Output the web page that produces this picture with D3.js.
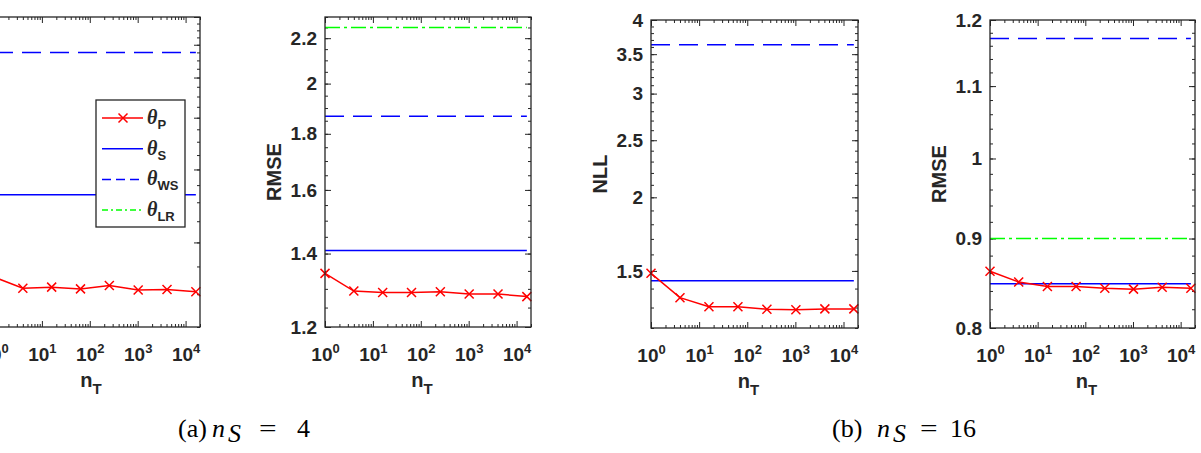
<!DOCTYPE html>
<html>
<head>
<meta charset="utf-8">
<script src="https://cdn.jsdelivr.net/npm/d3@7"></script>
<style>
body { margin: 0; background: #fff; }
svg { display: block; }
.tick text { font-family: "Liberation Sans", Arial, sans-serif; font-weight: bold; font-size: 19px; fill: #262626; }
.tick line { stroke: #262626; stroke-width: 1; }
.lab { font-family: "Liberation Sans", Arial, sans-serif; font-weight: bold; font-size: 20px; fill: #262626; }
.cap { font-family: "Liberation Serif", "Times New Roman", serif; font-size: 26px; fill: #000; }
</style>
</head>
<body>
<svg id="fig" width="1201" height="453"></svg>
<script>
// number of target samples (x axis, shared)
var nT = [1, 4, 16, 64, 256, 1024, 4096, 16384];
var xTicks = [1, 10, 100, 1000, 10000];

// (a) n_S = 4
var nllP4 = [3.30, 3.10, 3.12, 3.09, 3.15, 3.07, 3.08, 3.04];
var nllS4 = 5.21;
var nllWS4 = 11.5;
var rmseP4 = [1.343, 1.294, 1.290, 1.290, 1.292, 1.286, 1.286, 1.279];
var rmseS4 = 1.409;
var rmseWS4 = 1.868;
var rmseLR4 = 2.25;

// (b) n_S = 16
var nllP16 = [1.486, 1.351, 1.304, 1.304, 1.291, 1.289, 1.293, 1.293];
var nllS16 = 1.443;
var nllWS16 = 3.63;
var rmseP16 = [0.862, 0.850, 0.845, 0.845, 0.843, 0.842, 0.844, 0.843];
var rmseS16 = 0.848;
var rmseWS16 = 1.171;
var rmseLR16 = 0.900;

// y tick labels
var nllTicks4 = [4, 6, 8, 10, 12, 14];
var rmseTicks4 = [1.2, 1.4, 1.6, 1.8, 2, 2.2];
var nllTicks16 = [1.5, 2, 2.5, 3, 3.5, 4];
var rmseTicks16 = [0.8, 0.9, 1, 1.1, 1.2];

var legendNames = ["P", "S", "WS", "LR"];

var svg = d3.select("#fig");
var ink = "#262626";

// first panel is cropped on the left: its y labels fall outside the picture
var panels = [
  { left: -6, top: 17, w: 206, h: 310, yDom: [2.5, 14], ticks: nllTicks4, minor: 0.5, label: "NLL",
    p: nllP4, s: nllS4, ws: nllWS4, lr: null, cropped: true },
  { left: 325, top: 17, w: 206, h: 310, yDom: [1.2, 2.3], ticks: rmseTicks4, minor: 0.05, label: "RMSE",
    p: rmseP4, s: rmseS4, ws: rmseWS4, lr: rmseLR4 },
  { left: 651, top: 20, w: 207, h: 308, yDom: [1.2, 4], ticks: nllTicks16, minor: 0.1, label: "NLL",
    p: nllP16, s: nllS16, ws: nllWS16, lr: null },
  { left: 990, top: 20, w: 205, h: 308, yDom: [0.8, 1.2], ticks: rmseTicks16, minor: 0.02, label: "RMSE",
    p: rmseP16, s: rmseS16, ws: rmseWS16, lr: rmseLR16 }
];

function xMinors() {
  var out = [];
  for (var e = 0; e <= 4; e++)
    for (var m = 2; m <= 9; m++) {
      var v = m * Math.pow(10, e);
      if (v <= 20000) out.push(v);
    }
  return out;
}

function drawPanel(c) {
  var g = svg.append("g").attr("transform", "translate(" + c.left + "," + c.top + ")");
  var x = d3.scaleLog().domain([1, 20000]).range([0, c.w]);
  var y = d3.scaleLog().domain(c.yDom).range([c.h, 0]);

  var yMin = d3.range(c.yDom[0], c.yDom[1] + 1e-9, c.minor).map(function(v) { return +v.toFixed(4); });

  // minor ticks (inside)
  g.append("g").attr("transform", "translate(0," + c.h + ")")
    .call(d3.axisBottom(x).tickValues(xMinors()).tickSize(-3).tickSizeOuter(0).tickFormat(""));
  g.append("g").call(d3.axisTop(x).tickValues(xMinors()).tickSize(-3).tickSizeOuter(0).tickFormat(""));
  g.append("g").call(d3.axisLeft(y).tickValues(yMin).tickSize(-3).tickSizeOuter(0).tickFormat(""));
  g.append("g").attr("transform", "translate(" + c.w + ",0)")
    .call(d3.axisRight(y).tickValues(yMin).tickSize(-3).tickSizeOuter(0).tickFormat(""));

  // major ticks
  var xb = g.append("g").attr("class", "xmaj").attr("transform", "translate(0," + c.h + ")")
    .call(d3.axisBottom(x).tickValues(xTicks).tickSize(-6).tickSizeOuter(0));
  g.append("g").call(d3.axisTop(x).tickValues(xTicks).tickSize(-6).tickSizeOuter(0).tickFormat(""));
  g.append("g").call(d3.axisLeft(y).tickValues(c.ticks).tickSize(-6).tickSizeOuter(0).tickPadding(8)
    .tickFormat(c.cropped ? "" : function(d) { return d3.format("~g")(d); }));
  g.append("g").attr("transform", "translate(" + c.w + ",0)")
    .call(d3.axisRight(y).tickValues(c.ticks).tickSize(-6).tickSizeOuter(0).tickFormat(""));
  g.selectAll(".domain").remove();

  xb.selectAll(".tick text").each(function(d) {
    var t = d3.select(this);
    t.text(null).attr("y", 34).attr("dy", null);
    t.append("tspan").text("10");
    t.append("tspan").attr("dy", -8).attr("font-size", "13px").text(Math.round(Math.log10(d)));
  });

  // series
  var line = d3.line().x(function(d) { return x(d[0]); }).y(function(d) { return y(d[1]); });
  function flat(v) { return nT.map(function(n) { return [n, v]; }); }

  g.append("path").datum(flat(c.s)).attr("d", line)
    .attr("fill", "none").attr("stroke", "#0000ff").attr("stroke-width", 1.5);
  g.append("path").datum(flat(c.ws)).attr("d", line)
    .attr("fill", "none").attr("stroke", "#0000ff").attr("stroke-width", 1.5).attr("stroke-dasharray", "19,9");
  if (c.lr !== null)
    g.append("path").datum(flat(c.lr)).attr("d", line)
      .attr("fill", "none").attr("stroke", "#00ff00").attr("stroke-width", 1.5).attr("stroke-dasharray", "15,4,3,4");

  var pts = nT.map(function(n, i) { return [n, c.p[i]]; });
  g.append("path").datum(pts).attr("d", line)
    .attr("fill", "none").attr("stroke", "#ff0000").attr("stroke-width", 1.5);
  g.selectAll("path.mk").data(pts).enter().append("path").attr("class", "mk")
    .attr("d", function(d) {
      var px = x(d[0]), py = y(d[1]), r = 4.5;
      return "M" + (px - r) + "," + (py - r) + "L" + (px + r) + "," + (py + r) +
             "M" + (px - r) + "," + (py + r) + "L" + (px + r) + "," + (py - r);
    })
    .attr("stroke", "#ff0000").attr("stroke-width", 1.5);

  // box
  g.append("rect").attr("width", c.w).attr("height", c.h)
    .attr("fill", "none").attr("stroke", ink).attr("stroke-width", 1.3);

  // axis labels
  if (!c.cropped)
    g.append("text").attr("class", "lab").attr("text-anchor", "middle")
      .attr("transform", "translate(-44," + (c.h / 2) + ") rotate(-90)").text(c.label);
  var xl = g.append("text").attr("class", "lab").attr("text-anchor", "middle")
    .attr("x", c.w / 2 - 6).attr("y", c.h + 60);
  xl.append("tspan").text("n");
  xl.append("tspan").attr("dy", 7).attr("font-size", "15px").text("T");
}

panels.forEach(drawPanel);

// legend (first panel)
var lg = svg.append("g").attr("transform", "translate(96,100)");
lg.append("rect").attr("width", 89).attr("height", 127)
  .attr("fill", "#fff").attr("stroke", ink).attr("stroke-width", 1.3);
var styles = [
  { col: "#ff0000", dash: null },
  { col: "#0000ff", dash: null },
  { col: "#0000ff", dash: "9,5" },
  { col: "#00ff00", dash: "6,3,2,3" }
];
legendNames.forEach(function(nm, i) {
  var yy = 18 + i * 30.7;
  var st = styles[i];
  lg.append("line").attr("x1", 6).attr("x2", 47).attr("y1", yy).attr("y2", yy)
    .attr("stroke", st.col).attr("stroke-width", 1.5).attr("stroke-dasharray", st.dash);
  if (i === 0)
    lg.append("path").attr("d", "M22.5," + (yy - 4.5) + "L31.5," + (yy + 4.5) + "M22.5," + (yy + 4.5) + "L31.5," + (yy - 4.5))
      .attr("stroke", st.col).attr("stroke-width", 1.5);
  var t = lg.append("text").attr("x", 51).attr("y", yy + 6);
  t.append("tspan").attr("font-family", "'Liberation Serif', serif").attr("font-weight", "bold")
    .attr("font-style", "italic").attr("font-size", "20px").attr("fill", ink).text("\u03b8");
  t.append("tspan").attr("dy", 5).attr("font-family", "'Liberation Sans', sans-serif").attr("font-weight", "bold")
    .attr("font-size", "13px").attr("fill", ink).text(nm);
});

// captions: each piece placed at its own x, as typeset in the reference
function caption(label, num, xs) {
  svg.append("text").attr("class", "cap").attr("x", xs[0]).attr("y", 437).text(label);
  svg.append("text").attr("class", "cap").attr("x", xs[1]).attr("y", 437)
    .attr("font-style", "italic").attr("font-size", "28px").text("n");
  svg.append("text").attr("class", "cap").attr("x", xs[2]).attr("y", 442)
    .attr("font-style", "italic").attr("font-size", "20px").text("S");
  svg.append("text").attr("class", "cap")
    .attr("transform", "translate(" + xs[3] + ",437) scale(1.2,1)").text("=");
  svg.append("text").attr("class", "cap").attr("x", xs[4]).attr("y", 437)
    .attr("font-size", "28px").text(num);
}
caption("(a)", "4", [178, 212, 228, 259, 297]);
caption("(b)", "16", [832, 877, 893, 920, 950]);
</script>
</body>
</html>
